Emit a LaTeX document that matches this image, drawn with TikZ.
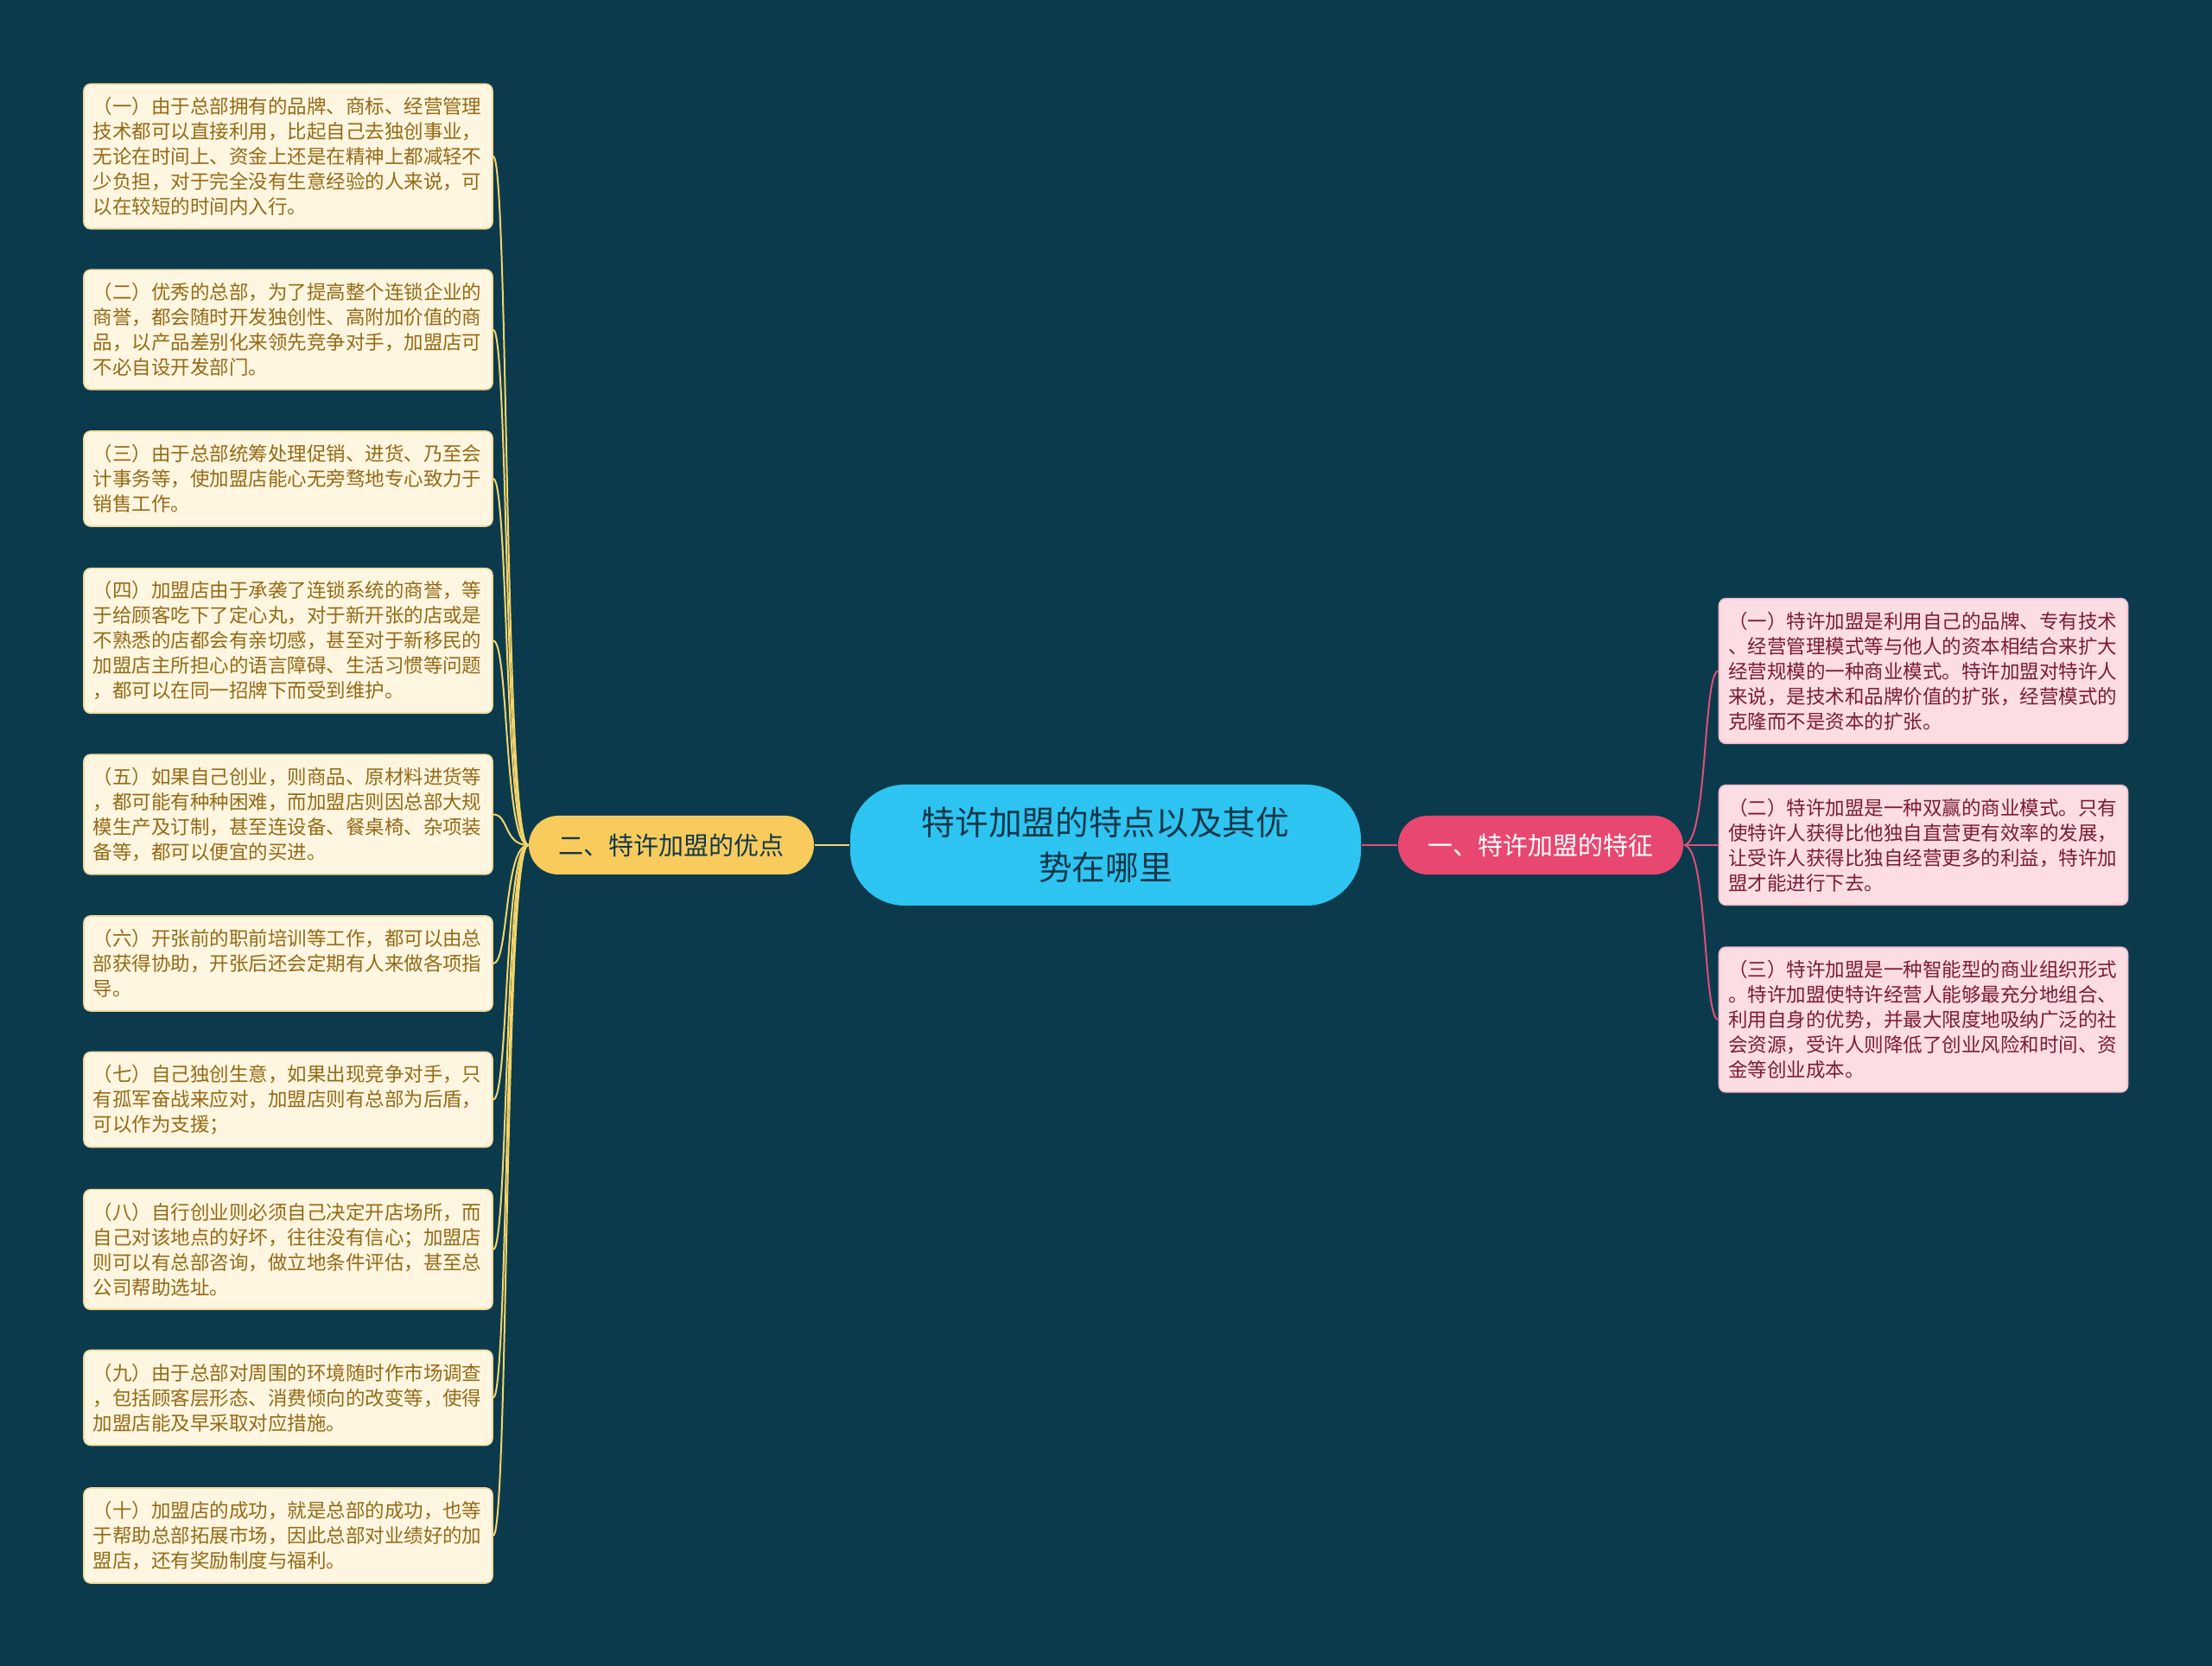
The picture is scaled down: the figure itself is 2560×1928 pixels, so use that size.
\documentclass[tikz,border=0pt]{standalone}
\usepackage{fontspec}
\setmainfont{Noto Sans CJK SC}
\definecolor{bg}{HTML}{0C3A4D}
\definecolor{lfill}{HTML}{FEF6E0}
\definecolor{ledge}{HTML}{F0DA9A}
\definecolor{ltext}{HTML}{946A17}
\definecolor{rfill}{HTML}{FCDDE3}
\definecolor{redge}{HTML}{F2BFCB}
\definecolor{rtext}{HTML}{7B1C34}
\definecolor{cfill}{HTML}{2EC4F1}
\definecolor{ctext}{HTML}{12384A}
\definecolor{yfill}{HTML}{F8CB5C}
\definecolor{yline}{HTML}{F3D46A}
\definecolor{pfill}{HTML}{E8476F}
\definecolor{pline}{HTML}{DD4F77}
\begin{document}
\begin{tikzpicture}[x=0.3pt,y=-0.3pt,
  leafbox/.style={rounded corners=2.4pt, line width=0.5pt, minimum width=141.9pt,
    text width=135.6pt, inner xsep=3.15pt, inner ysep=0pt, align=left,
    font=\fontsize{6.75pt}{8.7pt}\selectfont},
  lbox/.style={leafbox, fill=lfill, draw=ledge, text=ltext},
  rbox/.style={leafbox, fill=rfill, draw=redge, text=rtext},
  five/.style={minimum height=50.3pt},
  four/.style={minimum height=41.6pt},
  three/.style={minimum height=33pt},
  branchbox/.style={rounded corners=10.2pt, minimum width=99pt, minimum height=20.4pt,
    inner sep=0pt, font=\fontsize{8.7pt}{10pt}\selectfont},
  lconn/.style={draw=yline, line width=0.6pt},
  rconn/.style={draw=pline, line width=0.6pt}]
\useasboundingbox (0,0) rectangle (2560,1928);
\fill[bg] (0,0) rectangle (2560,1928);

% center
\node[fill=cfill, rounded corners=19pt, minimum width=177.3pt, minimum height=42pt,
  inner sep=0pt, align=center, text=ctext,
  font=\fontsize{11.6pt}{15.7pt}\selectfont] (c) at (1279.5,978)
  {特许加盟的特点以及其优\\势在哪里};

% branches
\node[branchbox, fill=yfill, text=ctext] (lb) at (777,978) {二、特许加盟的优点};
\node[branchbox, fill=pfill, text=white] (rb) at (1783,978) {一、特许加盟的特征};

% left leaves
\node[lbox, five] (l1) at (333.5,181) {（一）由于总部拥有的品牌、商标、经营管理\\技术都可以直接利用，比起自己去独创事业，\\无论在时间上、资金上还是在精神上都减轻不\\少负担，对于完全没有生意经验的人来说，可\\以在较短的时间内入行。};
\node[lbox, four] (l2) at (333.5,381.5) {（二）优秀的总部，为了提高整个连锁企业的\\商誉，都会随时开发独创性、高附加价值的商\\品，以产品差别化来领先竞争对手，加盟店可\\不必自设开发部门。};
\node[lbox, three] (l3) at (333.5,554) {（三）由于总部统筹处理促销、进货、乃至会\\计事务等，使加盟店能心无旁骛地专心致力于\\销售工作。};
\node[lbox, five] (l4) at (333.5,741.5) {（四）加盟店由于承袭了连锁系统的商誉，等\\于给顾客吃下了定心丸，对于新开张的店或是\\不熟悉的店都会有亲切感，甚至对于新移民的\\加盟店主所担心的语言障碍、生活习惯等问题\\，都可以在同一招牌下而受到维护。};
\node[lbox, four] (l5) at (333.5,942.5) {（五）如果自己创业，则商品、原材料进货等\\，都可能有种种困难，而加盟店则因总部大规\\模生产及订制，甚至连设备、餐桌椅、杂项装\\备等，都可以便宜的买进。};
\node[lbox, three] (l6) at (333.5,1115) {（六）开张前的职前培训等工作，都可以由总\\部获得协助，开张后还会定期有人来做各项指\\导。};
\node[lbox, three] (l7) at (333.5,1272.5) {（七）自己独创生意，如果出现竞争对手，只\\有孤军奋战来应对，加盟店则有总部为后盾，\\可以作为支援；};
\node[lbox, four] (l8) at (333.5,1446) {（八）自行创业则必须自己决定开店场所，而\\自己对该地点的好坏，往往没有信心；加盟店\\则可以有总部咨询，做立地条件评估，甚至总\\公司帮助选址。};
\node[lbox, three] (l9) at (333.5,1617.5) {（九）由于总部对周围的环境随时作市场调查\\，包括顾客层形态、消费倾向的改变等，使得\\加盟店能及早采取对应措施。};
\node[lbox, three] (l10) at (333.5,1777) {（十）加盟店的成功，就是总部的成功，也等\\于帮助总部拓展市场，因此总部对业绩好的加\\盟店，还有奖励制度与福利。};

% right leaves
\node[rbox, five] (r1) at (2226,776.5) {（一）特许加盟是利用自己的品牌、专有技术\\、经营管理模式等与他人的资本相结合来扩大\\经营规模的一种商业模式。特许加盟对特许人\\来说，是技术和品牌价值的扩张，经营模式的\\克隆而不是资本的扩张。};
\node[rbox, four] (r2) at (2226,978) {（二）特许加盟是一种双赢的商业模式。只有\\使特许人获得比他独自直营更有效率的发展，\\让受许人获得比独自经营更多的利益，特许加\\盟才能进行下去。};
\node[rbox, five] (r3) at (2226,1180) {（三）特许加盟是一种智能型的商业组织形式\\。特许加盟使特许经营人能够最充分地组合、\\利用自身的优势，并最大限度地吸纳广泛的社\\会资源，受许人则降低了创业风险和时间、资\\金等创业成本。};

% connectors
\draw[lconn] (c.west) -- (lb.east);
\draw[rconn] (c.east) -- (rb.west);
\foreach \n in {l1,l2,l3,l4,l5,l6,l7,l8,l9,l10}
  \draw[lconn] (lb.west) .. controls +(-28,0) and +(18,0) .. (\n.east);
\foreach \n in {r1,r2,r3}
  \draw[rconn] (rb.east) .. controls +(28,0) and +(-18,0) .. (\n.west);
\end{tikzpicture}
\end{document}
